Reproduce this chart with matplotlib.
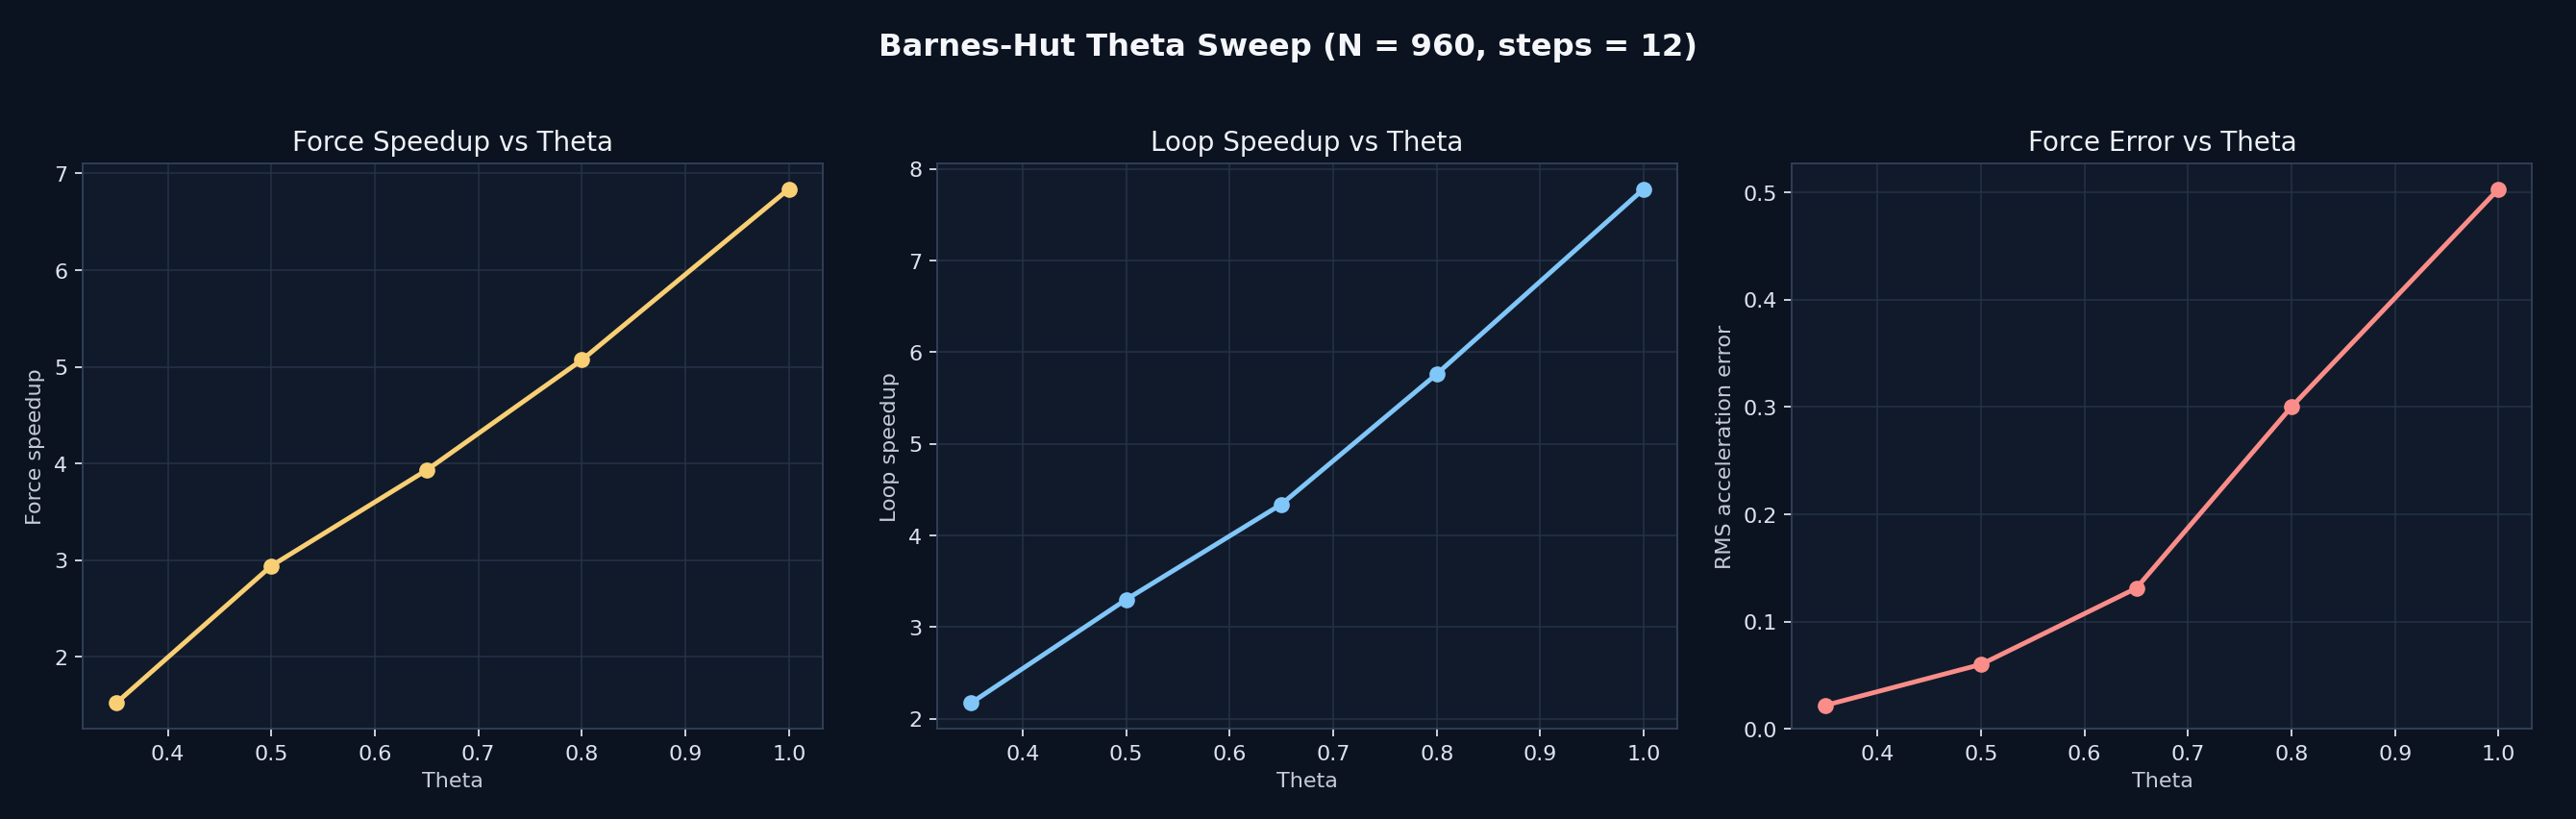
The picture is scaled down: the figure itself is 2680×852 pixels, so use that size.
import matplotlib
matplotlib.use("Agg")
import matplotlib.pyplot as plt

theta = [0.35, 0.5, 0.65, 0.8, 1.0]
force_speedup = [1.52, 2.94, 3.93, 5.07, 6.84]
loop_speedup = [2.17, 3.30, 4.34, 5.76, 7.78]
rms_error = [0.022, 0.060, 0.131, 0.300, 0.503]

titles = ["Force Speedup vs Theta", "Loop Speedup vs Theta", "Force Error vs Theta"]
ylabels = ["Force speedup", "Loop speedup", "RMS acceleration error"]
colors = ["#f9cf74", "#80c6f8", "#fa8d89"]

fig_bg = "#0b1220"
ax_bg = "#111a2a"
fig, axes = plt.subplots(1, 3, figsize=(16.75, 5.33), dpi=160, facecolor=fig_bg)
for ax, y, t, yl, c in zip(axes, [force_speedup, loop_speedup, rms_error], titles, ylabels, colors):
    ax.set_facecolor(ax_bg)
    ax.plot(theta, y, color=c, lw=2.2, marker="o", ms=6.5)
    ax.set_title(t, color="#eef2f7", fontsize=12.5)
    ax.set_xlabel("Theta", color="#c5ccd8", fontsize=10)
    ax.set_ylabel(yl, color="#c5ccd8", fontsize=10)
    ax.grid(True, color="#26344a", lw=0.8, alpha=0.8)
    ax.tick_params(colors="#dde3ec", labelsize=10)
    for s in ax.spines.values():
        s.set_color("#33425c")
    ax.set_xticks([0.4, 0.5, 0.6, 0.7, 0.8, 0.9, 1.0])
axes[2].set_ylim(0, 0.527)
fig.suptitle("Barnes-Hut Theta Sweep (N = 960, steps = 12)", color="#f4f6fa", fontsize=14.5, fontweight="bold", y=0.96)
fig.subplots_adjust(left=0.032, right=0.983, bottom=0.11, top=0.80, wspace=0.155)
fig.savefig("out.png", facecolor=fig_bg)
